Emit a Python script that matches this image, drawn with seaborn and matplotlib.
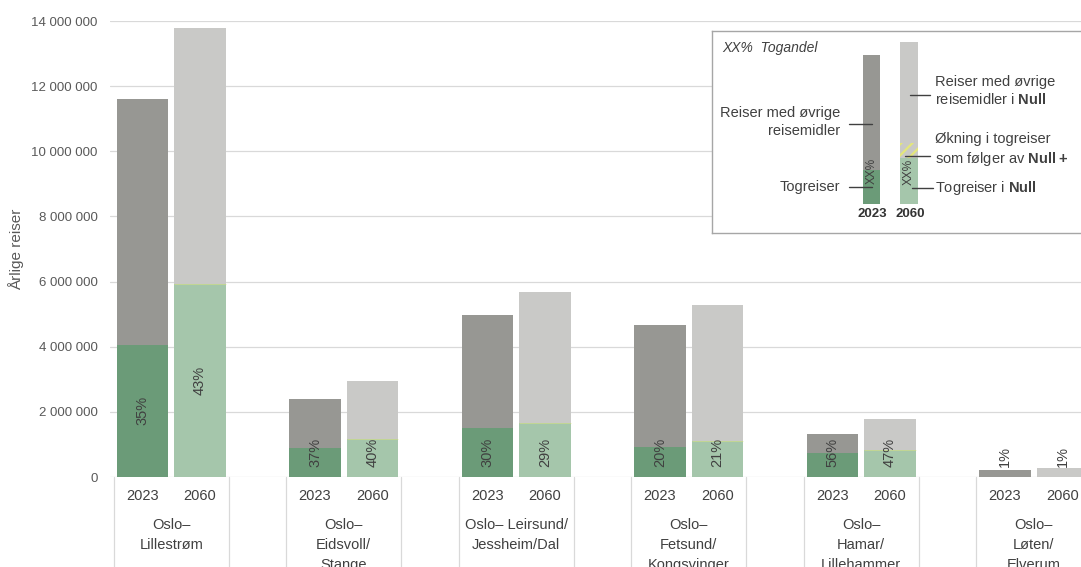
import matplotlib
matplotlib.use("Agg")
import matplotlib.pyplot as plt
from matplotlib.ticker import FuncFormatter
import pandas as pd
import seaborn as sns

# ---- data -------------------------------------------------------------
routes = [
    "Oslo–\nLillestrøm",
    "Oslo–\nEidsvoll/\nStange",
    "Oslo– Leirsund/\nJessheim/Dal",
    "Oslo–\nFetsund/\nKongsvinger",
    "Oslo–\nHamar/\nLillehammer",
    "Oslo–\nLøten/\nElverum",
]
years = ["2023", "2060"]
total_2023 = [11_600_000, 2_400_000, 4_970_000, 4_670_000, 1_320_000, 210_000]
total_2060 = [13_800_000, 2_950_000, 5_680_000, 5_280_000, 1_780_000, 280_000]
share_2023 = [35, 37, 30, 20, 56, 1]   # train share, %
share_2060 = [43, 40, 29, 21, 47, 1]
y_ticks = [0, 2_000_000, 4_000_000, 6_000_000, 8_000_000, 10_000_000, 12_000_000, 14_000_000]

# ---- styling ----------------------------------------------------------
sns.set_theme(style="white")
plt.rcParams["font.family"] = ["Liberation Sans", "DejaVu Sans"]
plt.rcParams["mathtext.fontset"] = "custom"
plt.rcParams["mathtext.rm"] = "Liberation Sans"
plt.rcParams["mathtext.bf"] = "Liberation Sans:bold"
plt.rcParams["hatch.linewidth"] = 1.6

TEXT = "#404040"
TICK = "#595959"
GRID = "#d9d9d9"
other_pal = {"2023": "#979793", "2060": "#c9c9c7"}
train_pal = {"2023": "#6b9b78", "2060": "#a5c6ab"}
nullplus = "#e4e77a"

rows = []
for i, route in enumerate(routes):
    for j, (yr, tot, sh) in enumerate(zip(years, (total_2023[i], total_2060[i]),
                                          (share_2023[i], share_2060[i]))):
        rows.append(dict(route=route, year=yr, pos=3 * i + j, group=3 * i + 0.5,
                         total=tot, share=sh, train=tot * sh / 100))
df = pd.DataFrame(rows)

fig = plt.figure(figsize=(10.81, 5.67), dpi=100)
ax = fig.add_axes([110 / 1081, 90 / 567, (1100 - 110) / 1081, 456 / 567])

common = dict(x="pos", hue="year", native_scale=True, dodge=False, width=0.9,
              saturation=1, errorbar=None, legend=False, linewidth=0, ax=ax)
sns.barplot(data=df, y="total", palette=other_pal, **common)
sns.barplot(data=df, y="train", palette=train_pal, **common)

# faint Null+ increment on top of the 2060 train share
d60 = df[df.year == "2060"]
ax.hlines(d60.train, d60.pos - 0.45, d60.pos + 0.45, color=nullplus, lw=0.6, alpha=0.55,
          zorder=3)

ax.set_xlim(-0.5652, 16.652)
ax.set_ylim(0, 14_000_000)
ax.set_yticks(y_ticks)
ax.yaxis.set_major_formatter(FuncFormatter(lambda v, p: f"{int(v):,}".replace(",", " ")))
ax.yaxis.grid(True, color=GRID, lw=0.9)
ax.xaxis.grid(False)
ax.set_axisbelow(True)
for s in ax.spines.values():
    s.set_visible(False)
ax.tick_params(axis="y", length=0, pad=9, labelsize=9.5, labelcolor=TICK)
ax.set_xticks(df.pos)
ax.set_xticklabels(df.year)
ax.tick_params(axis="x", length=0, pad=9, labelsize=10.5, labelcolor=TEXT)
ax.set_xlabel("")
ax.set_ylabel("Årlige reiser", fontsize=11, color=TICK)
ax.yaxis.set_label_coords(-0.087, 0.5)

# percent labels inside the train share
for _, r in df.iterrows():
    half = r.train / 2
    if half >= 850_000:
        ax.text(r.pos, half, f"{r.share}%", rotation=90, ha="center", va="center",
                fontsize=10.5, color=TEXT)
    else:
        ax.text(r.pos, 300_000, f"{r.share}%", rotation=90, ha="center", va="bottom",
                fontsize=10.5, color=TEXT)

# category cells below the axis
xt = ax.get_xaxis_transform()
for g, route in zip(df.group.unique(), routes):
    for xv in (g - 1.0, g + 1.0):
        ax.plot([xv, xv], [0, -0.21], transform=xt, clip_on=False, color=GRID, lw=0.9)
    ax.annotate(route, xy=(g, 0), xycoords=xt, xytext=(0, -41), textcoords="offset pixels",
                ha="center", va="top", fontsize=10.5, color=TEXT, linespacing=1.55,
                annotation_clip=False)

# ---- explanatory key --------------------------------------------------
lax = fig.add_axes([712 / 1081, (567 - 233) / 567, (1095 - 712) / 1081, 202 / 567])
lax.set_xlim(712, 1095)
lax.set_ylim(233, 31)
lax.set_facecolor("white")
lax.set_xticks([])
lax.set_yticks([])
for s in lax.spines.values():
    s.set_color("#a6a6a6")
    s.set_linewidth(1)

key_x = [871.5, 909]
key_w = [17, 18]
lax.bar(key_x[0], 170 - 55, bottom=55, width=key_w[0], color=other_pal["2023"], lw=0)
lax.bar(key_x[0], 204 - 170, bottom=170, width=key_w[0], color=train_pal["2023"], lw=0)
lax.bar(key_x[1], 143 - 42, bottom=42, width=key_w[1], color=other_pal["2060"], lw=0)
lax.bar(key_x[1], 158 - 143, bottom=143, width=key_w[1], color=other_pal["2060"],
        hatch="///", edgecolor=nullplus, lw=0)
lax.bar(key_x[1], 204 - 158, bottom=158, width=key_w[1], color=train_pal["2060"], lw=0)
lax.text(key_x[0], 171, "XX%", rotation=90, ha="center", va="center", fontsize=8.5, color=TEXT)
lax.text(key_x[1], 172, "XX%", rotation=90, ha="center", va="center", fontsize=8.5, color=TEXT)
for xk, yr in zip(key_x, years):
    lax.text(xk + 1, 214, yr, ha="center", va="center", fontsize=9.5, fontweight="bold",
             color="#333333")

lax.text(722, 48, "XX%  Togandel", ha="left", va="center", fontsize=10, style="italic",
         color=TEXT)
lax.text(840, 122, "Reiser med øvrige\nreisemidler", ha="right", va="center",
         multialignment="right", fontsize=10.5, color=TEXT, linespacing=1.3)
lax.plot([849, 872], [124, 124], color=TEXT, lw=1)
lax.text(840, 187, "Togreiser", ha="right", va="center", fontsize=10.5, color=TEXT)
lax.plot([849, 872], [187, 187], color=TEXT, lw=1)

lax.text(935, 91, "Reiser med øvrige\nreisemidler i $\\mathbf{Null}$", ha="left", va="center",
         fontsize=10.5, color=TEXT, linespacing=1.3)
lax.plot([910, 930], [95, 95], color=TEXT, lw=1)
lax.text(935, 150, "Økning i togreiser\nsom følger av $\\mathbf{Null+}$", ha="left",
         va="center", fontsize=10.5, color=TEXT, linespacing=1.3)
lax.plot([905, 930], [156, 156], color=TEXT, lw=1)
lax.text(935, 188, "Togreiser i $\\mathbf{Null}$", ha="left", va="center",
         fontsize=10.5, color=TEXT)
lax.plot([912, 933], [188, 188], color=TEXT, lw=1)

fig.savefig("out.png", dpi=100)
